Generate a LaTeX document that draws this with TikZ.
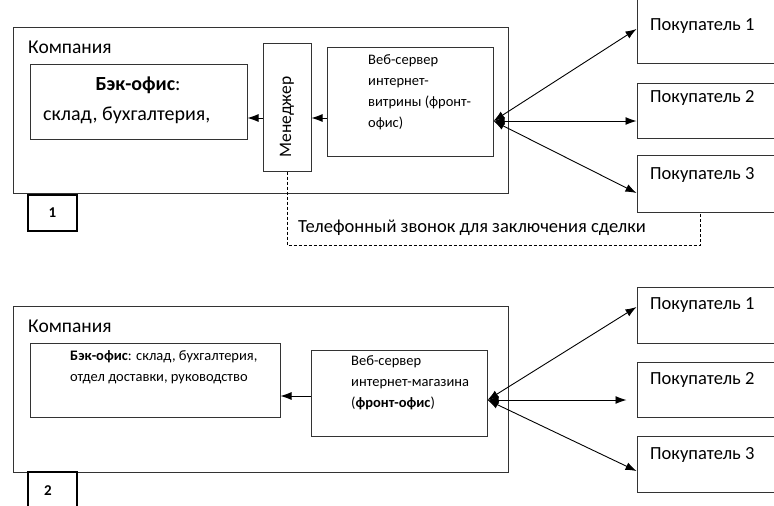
\documentclass[tikz,border=0pt]{standalone}
\usepackage{fontspec}
\setmainfont{Carlito}
\usetikzlibrary{arrows.meta,positioning}
\tikzset{
  box/.style={draw=black!80, line width=1pt, inner sep=0pt},
  numbox/.style={draw=black, line width=2pt, inner sep=0pt, font=\fontsize{15}{18}\selectfont\bfseries},
  big/.style={inner sep=0pt, font=\fontsize{18.5}{20}\selectfont},
  small/.style={inner sep=0pt, align=left, font=\fontsize{14.5}{21}\selectfont},
  link/.style={line width=0.9pt, -{Latex[length=11pt,width=8pt]}},
  duplex/.style={line width=0.9pt, {Latex[length=11pt,width=8pt]}-{Latex[length=11pt,width=8pt]}},
  call/.style={line width=0.8pt, dashed, dash pattern=on 3pt off 2pt}
}
\begin{document}
\begin{tikzpicture}[x=1pt,y=-1pt]
\useasboundingbox (0,0) rectangle (774,506);
\clip (0,0) rectangle (774,506);
% scheme 1
\node[box, minimum width=495, minimum height=166] (comp1) at (260.5,110) {};
\node[big, anchor=west, font=\fontsize{19.5}{22}\selectfont] (comp1name) at (28,47) {Компания};
\node[box, minimum width=217, minimum height=75] (back1) at (138.5,101.5) {};
\node[inner sep=0pt, font=\fontsize{20}{22}\selectfont] (back1head) at (138,85) {\textbf{Бэк-офис}:};
\node[inner sep=0pt, anchor=west, font=\fontsize{20}{22}\selectfont] (back1text) at (43,115) {склад, бухгалтерия,};
\node[box, minimum width=48, minimum height=128] (mgr) at (287,107) {};
\node[big, rotate=90, font=\fontsize{17.5}{20}\selectfont] (mgrname) at (287,117) {Менеджер};
\node[box, minimum width=166, minimum height=109] (web1) at (410,101.5) {};
\node[small, anchor=north west] (web1text) at (368,54) {Веб-сервер\\интернет-\\витрины (фронт-\\офис)};
\node[box, minimum width=153, minimum height=68] (buy11) at (713.5,29) {};
\node[box, minimum width=153, minimum height=55] (buy12) at (713.5,110.5) {};
\node[box, minimum width=153, minimum height=57] (buy13) at (713.5,183.5) {};
\node[big, anchor=west] (buy11name) at (650,26) {Покупатель 1};
\node[big, anchor=west] (buy12name) at (650,98) {Покупатель 2};
\node[big, anchor=west] (buy13name) at (650,175) {Покупатель 3};
\node[numbox, minimum width=49, minimum height=36] (num1) at (52.5,213) {1};
\draw[link] (web1.west |- 0,118) -- (mgr.east |- 0,118);
\draw[link] (mgr.west |- 0,118) -- (back1.east |- 0,118);
\draw[duplex] ([shift={(0,19.5)}]web1.east) -- (buy11.west);
\draw[duplex] ([shift={(0,19.5)}]web1.east) -- ([shift={(0,10.5)}]buy12.west);
\draw[duplex] ([shift={(0,19.5)}]web1.east) -- ([shift={(0,9.5)}]buy13.west);
\draw[call] (mgr.south) -- (mgr.south |- 0,245) -| ([shift={(-13.5,0)}]buy13.south);
\node[big, anchor=west] (calltext) at (298,228) {Телефонный звонок для заключения сделки};
% scheme 2
\node[box, minimum width=495, minimum height=166] (comp2) at (260.5,389) {};
\node[big, anchor=west, font=\fontsize{19.5}{22}\selectfont] (comp2name) at (28,326) {Компания};
\node[box, minimum width=250, minimum height=74] (back2) at (155,380) {};
\node[small, anchor=north west] (back2text) at (70,350) {\textbf{Бэк-офис}: склад, бухгалтерия,\\отдел доставки, руководство};
\node[box, minimum width=176, minimum height=86] (web2) at (399,393) {};
\node[small, anchor=north west] (web2text) at (351,355) {Веб-сервер\\интернет-магазина\\(\textbf{фронт-офис})};
\node[box, minimum width=153, minimum height=56] (buy21) at (713.5,315) {};
\node[box, minimum width=153, minimum height=55] (buy22) at (713.5,389.5) {};
\node[box, minimum width=153, minimum height=56] (buy23) at (713.5,464) {};
\node[big, anchor=west] (buy21name) at (650,305) {Покупатель 1};
\node[big, anchor=west] (buy22name) at (650,380) {Покупатель 2};
\node[big, anchor=west] (buy23name) at (650,455) {Покупатель 3};
\node[numbox, minimum width=49, minimum height=48] (num2) at (52.5,496) {};
\node[numbox, draw=none] (num2text) at (48,491) {2};
\draw[link] (web2.west |- 0,396) -- (back2.east |- 0,396);
\draw[duplex] ([shift={(0,7)}]web2.east) -- ([shift={(0,-8)}]buy21.west);
\draw[duplex] ([shift={(0,7)}]web2.east) -- ([shift={(-10,10.5)}]buy22.west);
\draw[duplex] ([shift={(0,7)}]web2.east) -- ([shift={(0,7)}]buy23.west);
\end{tikzpicture}
\end{document}
